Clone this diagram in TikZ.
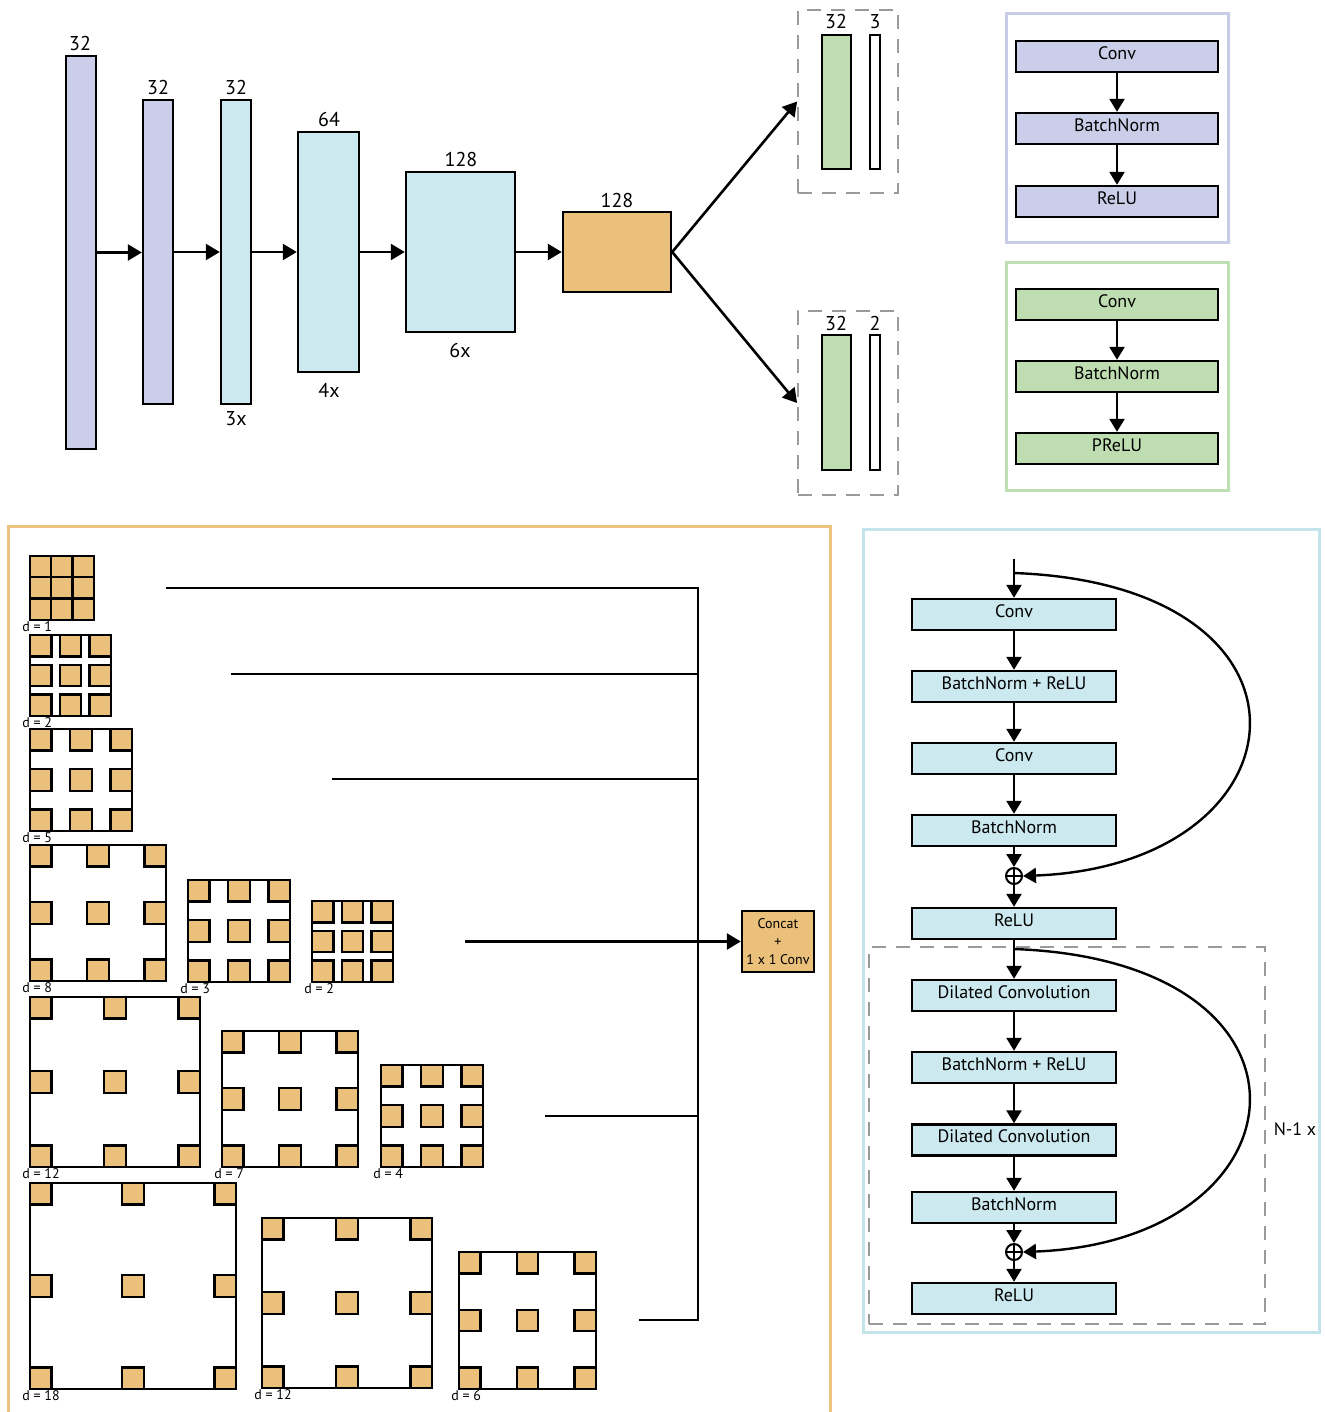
\documentclass[tikz,border=0pt]{standalone}
\usepackage{fontspec}
\setmainfont{PT Sans}
\usetikzlibrary{arrows.meta,fit}
\definecolor{lav}{HTML}{CBCEE9}
\definecolor{cyanl}{HTML}{CBE9EE}
\definecolor{orng}{HTML}{EBC07A}
\definecolor{grn}{HTML}{BEDDB0}
\definecolor{lavedge}{HTML}{C9CCE7}
\definecolor{grnedge}{HTML}{BEDFB1}
\definecolor{orngedge}{HTML}{EDC27E}
\definecolor{cyanedge}{HTML}{C2E4EA}
\definecolor{dashgray}{HTML}{9A9A9A}

\tikzset{
  arr/.style={line width=1.3pt,-{Triangle[length=7pt,width=8pt]}},
  sarr/.style={line width=1.2pt,-{Triangle[length=6.5pt,width=7.5pt]}},
  wire/.style={line width=1.3pt},
  layer/.style={draw=black,line width=1.2pt,inner sep=0pt},
  numlbl/.style={font=\fontsize{10}{12}\selectfont,inner sep=0pt},
  blk/.style={draw=black,line width=1.2pt,minimum height=15.5pt,inner sep=0pt,
    text height=5.4pt,text depth=2.5pt,font=\fontsize{9}{10}\selectfont},
  rblk/.style={blk,fill=cyanl,minimum width=102pt},
  lblk/.style={blk,minimum width=101pt},
  panel/.style={line width=1.5pt},
  dashframe/.style={draw=dashgray,line width=0.9pt,dash pattern=on 7pt off 5pt,inner sep=0pt},
  gridframe/.style={draw=black,line width=1pt,fill=white,inner sep=0pt},
  tap/.style={draw=black,line width=1.2pt,fill=orng},
  dlabel/.style={font=\fontsize{7}{8}\selectfont,inner sep=0pt,anchor=west},
  sumnode/.style={circle,draw=black,line width=1pt,minimum size=8pt,inner sep=0pt,
    path picture={\draw[line width=0.8pt]
      (path picture bounding box.north) -- (path picture bounding box.south)
      (path picture bounding box.west) -- (path picture bounding box.east);}},
}

% dilated 3x3 kernel: name, left, top, width, label
\newcommand{\dilgrid}[5]{%
  \node[gridframe,fit={(#2,#3) (#2+#4,#3+#4)}] (#1) {};
  \foreach \i in {0,1,2}{\foreach \j in {0,1,2}{
    \draw[tap] ({#2+\i*(#4-21.5)/2},{#3+\j*(#4-21.5)/2}) rectangle ++(21.5,21.5);
  }}
  \node[dlabel] (#1-l) at (#2-8,#3+#4+7) {#5};
}

\begin{document}
\begin{tikzpicture}[x=0.5pt,y=-0.5pt]
\useasboundingbox (0,0) rectangle (1324,1412);
\fill[white] (0,0) rectangle (1324,1412);

% ---------- encoder ----------
\node[layer,fill=lav,fit={(66,56) (96,449)}] (b1) {};
\node[layer,fill=lav,fit={(143,100) (173,404)}] (b2) {};
\node[layer,fill=cyanl,fit={(221,100) (251,404)}] (b3) {};
\node[layer,fill=cyanl,fit={(298,132) (359,372)}] (b4) {};
\node[layer,fill=cyanl,fit={(406,172) (515,332)}] (b5) {};
\node[layer,fill=orng,fit={(563,212) (671,292)}] (b6) {};

\node[numlbl] (t1) at (80,44) {32};
\node[numlbl] (t2) at (158,88) {32};
\node[numlbl] (t3) at (236,88) {32};
\node[numlbl] (t4) at (329,120) {64};
\node[numlbl] (t5) at (461,160) {128};
\node[numlbl] (t6) at (617,201) {128};
\node[numlbl] (r3) at (236,419) {3x};
\node[numlbl] (r4) at (329,390) {4x};
\node[numlbl] (r5) at (460,350) {6x};

\draw[arr] (b1.east) -- (b1.east -| b2.west);
\draw[arr] (b2.east) -- (b2.east -| b3.west);
\draw[arr] (b3.east) -- (b3.east -| b4.west);
\draw[arr] (b4.east) -- (b4.east -| b5.west);
\draw[arr] (b5.east) -- (b5.east -| b6.west);

% ---------- output heads ----------
\node[dashframe,fit={(798,10) (898,193)}] (o1) {};
\node[layer,fill=grn,fit={(822,35) (851,169)}] (o1a) {};
\node[layer,fill=white,fit={(870,35) (880,169)}] (o1b) {};
\node[numlbl] (o1at) at (836,22) {32};
\node[numlbl] (o1bt) at (875,22) {3};

\node[dashframe,fit={(798,311) (898,495)}] (o2) {};
\node[layer,fill=grn,fit={(822,335) (851,470)}] (o2a) {};
\node[layer,fill=white,fit={(870,335) (880,470)}] (o2b) {};
\node[numlbl] (o2at) at (836,323) {32};
\node[numlbl] (o2bt) at (875,323) {2};

\draw[arr] (b6.east) -- (o1.west);
\draw[arr] (b6.east) -- (o2.west);

% ---------- block legends ----------
\draw[panel,draw=lavedge] (1006,14) rectangle (1228,243);
\node[lblk,fill=lav] (la1) at (1117,56.5) {Conv};
\node[lblk,fill=lav] (la2) at (1117,128.5) {BatchNorm};
\node[lblk,fill=lav] (la3) at (1117,201.5) {ReLU};
\draw[sarr] (la1.south) -- (la2.north);
\draw[sarr] (la2.south) -- (la3.north);

\draw[panel,draw=grnedge] (1006,262) rectangle (1228,490);
\node[lblk,fill=grn] (lg1) at (1117,304.5) {Conv};
\node[lblk,fill=grn] (lg2) at (1117,376.5) {BatchNorm};
\node[lblk,fill=grn] (lg3) at (1117,448.5) {PReLU};
\draw[sarr] (lg1.south) -- (lg2.north);
\draw[sarr] (lg2.south) -- (lg3.north);

% ---------- dilated pyramid pooling ----------
\draw[panel,draw=orngedge] (8,1414) -- (8,526) -- (830,526) -- (830,1414);

\dilgrid{g1}{30}{556}{64}{d = 1}
\dilgrid{g2}{30}{635}{81}{d = 2}
\dilgrid{g3}{30}{729}{102}{d = 5}
\dilgrid{g4}{30}{845}{136}{d = 8}
\dilgrid{g5}{188}{880}{102}{d = 3}
\dilgrid{g6}{312}{901}{81}{d = 2}
\dilgrid{g7}{30}{997}{170}{d = 12}
\dilgrid{g8}{222}{1031}{136}{d = 7}
\dilgrid{g9}{381}{1065}{102}{d = 4}
\dilgrid{g10}{30}{1183}{206}{d = 18}
\dilgrid{g11}{262}{1218}{170}{d = 12}
\dilgrid{g12}{459}{1252}{137}{d = 6}

\node[draw=black,line width=1.2pt,fill=orng,minimum width=36pt,minimum height=30.5pt,
      inner sep=0pt,align=center,font=\fontsize{7}{9}\selectfont] (cat) at (778,941.5)
      {Concat\\+\\1 x 1 Conv};

\coordinate (h1) at (166,588);
\coordinate (h2) at (231,674);
\coordinate (h3) at (332,779);
\coordinate (h4) at (465,941.5);
\coordinate (h5) at (545,1116);
\coordinate (h6) at (639,1320);
\coordinate (vtop) at (698,588);
\coordinate (vbot) at (698,1320);
\draw[wire] (h1) -- (vtop) -- (vbot) -- (h6);
\draw[wire] (h2) -- (h2 -| vtop);
\draw[wire] (h3) -- (h3 -| vtop);
\draw[wire] (h5) -- (h5 -| vtop);
\draw[arr] (h4) -- (cat.west);

% ---------- residual encoder ----------
\draw[panel,draw=cyanedge] (863,529) rectangle (1319,1332);
\node[dashframe,fit={(869,947) (1265,1324)}] (rep) {};
\node[font=\fontsize{9}{10}\selectfont,inner sep=0pt] (reptxt) at (1295,1129) {N-1 x};

\node[rblk] (c1) at (1014,614.5) {Conv};
\node[rblk] (c2) at (1014,686.5) {BatchNorm + ReLU};
\node[rblk] (c3) at (1014,758.5) {Conv};
\node[rblk] (c4) at (1014,830.5) {BatchNorm};
\node[sumnode] (p1) at (1014,876) {};
\node[rblk] (c5) at (1014,923.5) {ReLU};
\node[rblk] (d1) at (1014,995.5) {Dilated Convolution};
\node[rblk] (d2) at (1014,1067.5) {BatchNorm + ReLU};
\node[rblk] (d3) at (1014,1140) {Dilated Convolution};
\node[rblk] (d4) at (1014,1207.5) {BatchNorm};
\node[sumnode] (p2) at (1014,1252) {};
\node[rblk] (d5) at (1014,1298.5) {ReLU};

\coordinate (rin) at (1014,559);
\coordinate (s1) at (1014,573);
\coordinate (s2) at (1014,949);

\draw[sarr] (rin) -- (c1.north);
\draw[sarr] (c1.south) -- (c2.north);
\draw[sarr] (c2.south) -- (c3.north);
\draw[sarr] (c3.south) -- (c4.north);
\draw[sarr] (c4.south) -- (p1.north);
\draw[sarr] (p1.south) -- (c5.north);
\draw[sarr] (c5.south) -- (d1.north);
\draw[sarr] (d1.south) -- (d2.north);
\draw[sarr] (d2.south) -- (d3.north);
\draw[sarr] (d3.south) -- (d4.north);
\draw[sarr] (d4.south) -- (p2.north);
\draw[sarr] (p2.south) -- (d5.north);

\draw[sarr] (s1) .. controls (1340,585) and (1310,865) .. (p1.east);
\draw[sarr] (s2) .. controls (1340,961) and (1310,1241) .. (p2.east);

\end{tikzpicture}
\end{document}
